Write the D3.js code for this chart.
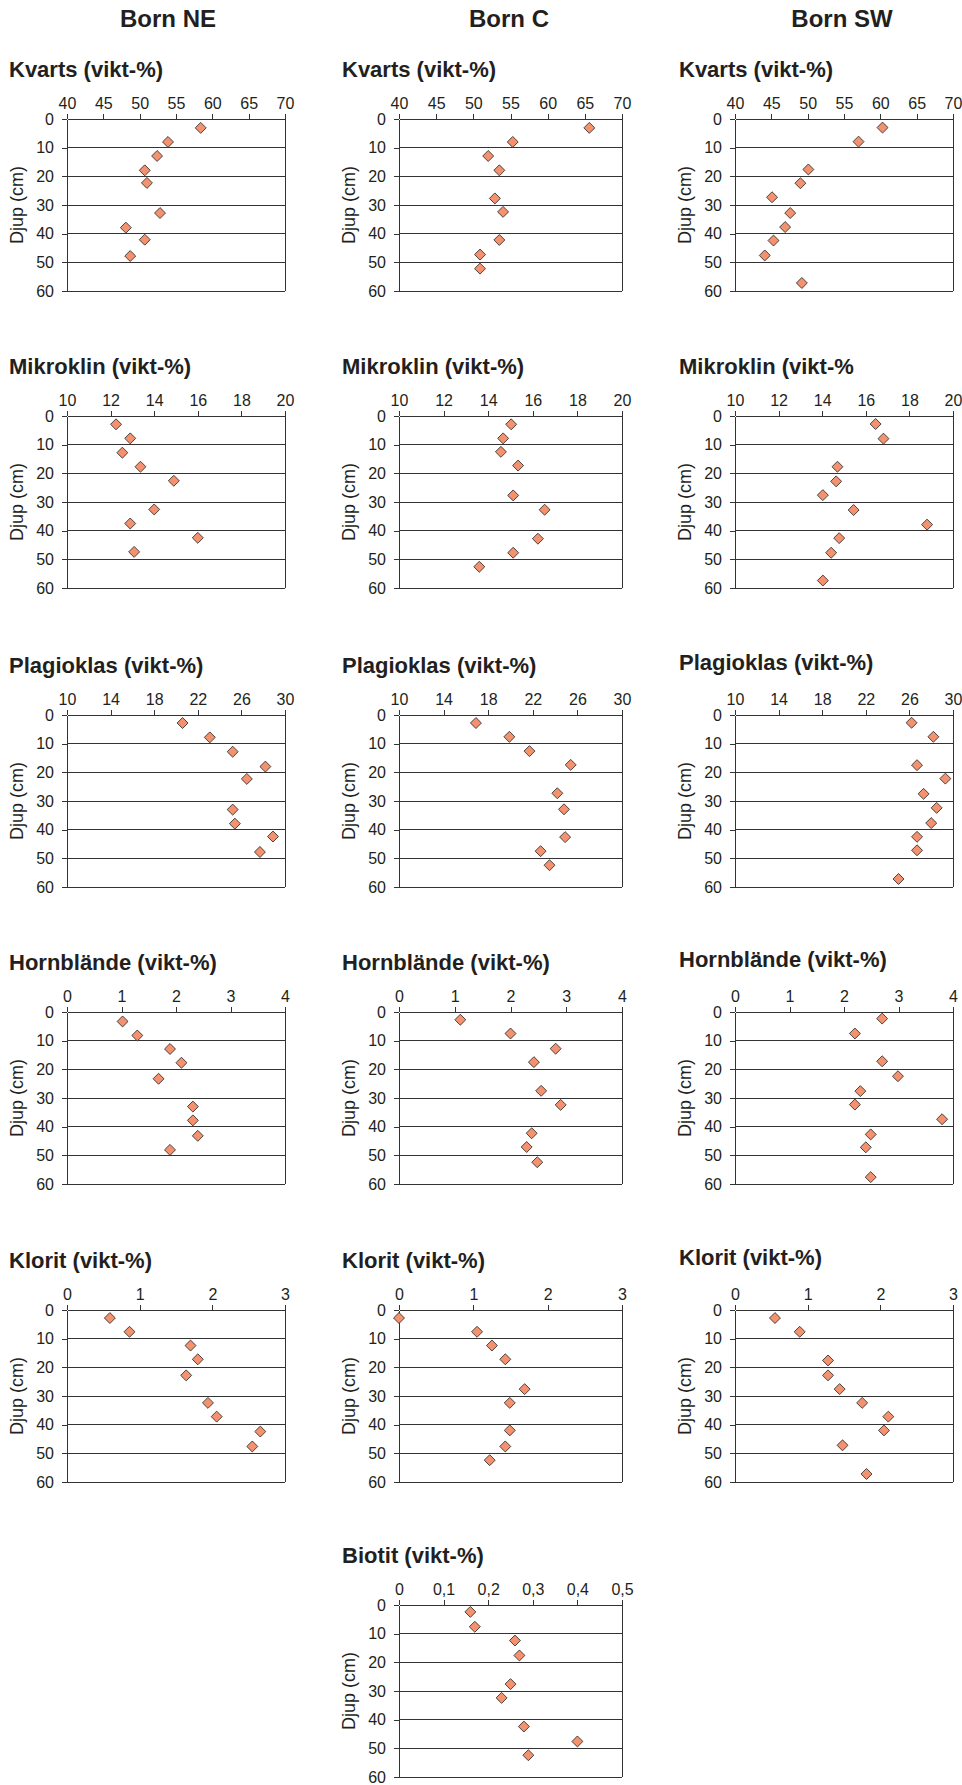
<!DOCTYPE html>
<html>
<head>
<meta charset="utf-8">
<script src="https://cdn.jsdelivr.net/npm/d3@7"></script>
<style>
  body { margin: 0; background: #fff; }
  text { font-family: 'Liberation Sans', Arial, sans-serif; fill: #231f20; }
</style>
</head>
<body>
<div id="chart"></div>
<script>
// sites (columns) and minerals (rows)
let sites = ['Born NE', 'Born C', 'Born SW']

// x tick values per mineral
let kvartsTicks = [40, 45, 50, 55, 60, 65, 70]
let mikroklinTicks = [10, 12, 14, 16, 18, 20]
let plagioklasTicks = [10, 14, 18, 22, 26, 30]
let hornblandeTicks = [0, 1, 2, 3, 4]
let kloritTicks = [0, 1, 2, 3]
let biotitTicks = [0, 0.1, 0.2, 0.3, 0.4, 0.5]
let depthTicks = [0, 10, 20, 30, 40, 50, 60]

// Kvarts
let kvartsNE_depth = [3.1, 8.0, 12.9, 17.9, 22.3, 32.8, 37.9, 42.1, 47.8]
let kvartsNE = [58.4, 53.9, 52.4, 50.7, 51.0, 52.8, 48.1, 50.7, 48.7]
let kvartsC_depth = [3.1, 8.0, 12.9, 17.9, 27.7, 32.4, 42.2, 47.3, 52.2]
let kvartsC = [65.6, 55.3, 52.0, 53.5, 52.9, 54.0, 53.5, 50.9, 50.9]
let kvartsSW_depth = [3.0, 7.9, 17.6, 22.4, 27.3, 32.8, 37.7, 42.4, 47.6, 57.2]
let kvartsSW = [60.3, 57.0, 50.1, 49.0, 45.1, 47.6, 46.9, 45.3, 44.1, 49.2]

// Mikroklin
let mikroklinNE_depth = [2.9, 7.8, 12.8, 17.7, 22.6, 32.6, 37.5, 42.5, 47.4]
let mikroklinNE = [12.25, 12.9, 12.54, 13.37, 14.9, 14.0, 12.9, 16.0, 13.08]
let mikroklinC_depth = [2.9, 7.8, 12.5, 17.3, 27.7, 32.7, 42.8, 47.7, 52.6]
let mikroklinC = [15.03, 14.67, 14.57, 15.34, 15.12, 16.53, 16.23, 15.12, 13.6]
let mikroklinSW_depth = [2.8, 7.9, 17.7, 22.8, 27.6, 32.8, 37.9, 42.6, 47.7, 57.4]
let mikroklinSW = [16.45, 16.81, 14.7, 14.64, 14.03, 15.44, 18.81, 14.78, 14.41, 14.03]

// Plagioklas
let plagioklasNE_depth = [2.8, 7.8, 12.8, 18.0, 22.3, 33.0, 37.9, 42.4, 47.8]
let plagioklasNE = [20.6, 23.1, 25.2, 28.2, 26.5, 25.2, 25.4, 28.9, 27.7]
let plagioklasC_depth = [2.8, 7.6, 12.6, 17.4, 27.3, 32.9, 42.6, 47.5, 52.4]
let plagioklasC = [16.9, 19.9, 21.7, 25.4, 24.2, 24.8, 24.9, 22.7, 23.5]
let plagioklasSW_depth = [2.7, 7.6, 17.5, 22.2, 27.5, 32.4, 37.7, 42.5, 47.2, 57.2]
let plagioklasSW = [26.2, 28.2, 26.7, 29.3, 27.3, 28.5, 28.0, 26.7, 26.7, 25.0]

// Hornblände
let hornblandeNE_depth = [3.3, 8.2, 12.9, 17.7, 23.3, 33.0, 37.8, 43.2, 48.1]
let hornblandeNE = [1.02, 1.29, 1.89, 2.1, 1.68, 2.31, 2.31, 2.4, 1.89]
let hornblandeC_depth = [2.7, 7.5, 12.8, 17.5, 27.5, 32.4, 42.3, 47.1, 52.4]
let hornblandeC = [1.1, 2.0, 2.81, 2.42, 2.55, 2.9, 2.38, 2.29, 2.48]
let hornblandeSW_depth = [2.3, 7.5, 17.2, 22.4, 27.6, 32.3, 37.4, 42.7, 47.2, 57.6]
let hornblandeSW = [2.7, 2.2, 2.7, 2.99, 2.3, 2.2, 3.8, 2.49, 2.4, 2.49]

// Klorit
let kloritNE_depth = [2.8, 7.6, 12.4, 17.2, 22.8, 32.4, 37.2, 42.4, 47.6]
let kloritNE = [0.59, 0.86, 1.7, 1.8, 1.64, 1.94, 2.06, 2.66, 2.55]
let kloritC_depth = [2.8, 7.6, 12.4, 17.2, 27.6, 32.4, 42.0, 47.6, 52.4]
let kloritC = [0.0, 1.05, 1.25, 1.43, 1.69, 1.49, 1.49, 1.43, 1.22]
let kloritSW_depth = [2.8, 7.6, 17.6, 22.8, 27.6, 32.4, 37.2, 42.0, 47.2, 57.2]
let kloritSW = [0.55, 0.89, 1.28, 1.28, 1.44, 1.75, 2.11, 2.05, 1.48, 1.81]

// Biotit (only Born C)
let biotitC_depth = [2.4, 7.6, 12.4, 17.6, 27.6, 32.4, 42.4, 47.6, 52.4]
let biotitC = [0.16, 0.17, 0.26, 0.27, 0.25, 0.23, 0.28, 0.40, 0.29]

// layout
let colLeft = [67, 399, 735]
let colWidth = [218, 223, 218]
let rowTop = [119, 416, 715, 1012, 1310, 1605]
let plotHeight = 172

let commaFormat = d3.formatLocale({ decimal: ',', thousands: ' ', grouping: [3], currency: ['', ''] }).format('~g')

let panels = [
  { row: 0, col: 0, title: 'Kvarts (vikt-%)', ticks: kvartsTicks, depth: kvartsNE_depth, values: kvartsNE },
  { row: 0, col: 1, title: 'Kvarts (vikt-%)', ticks: kvartsTicks, depth: kvartsC_depth, values: kvartsC },
  { row: 0, col: 2, title: 'Kvarts (vikt-%)', ticks: kvartsTicks, depth: kvartsSW_depth, values: kvartsSW },
  { row: 1, col: 0, title: 'Mikroklin (vikt-%)', ticks: mikroklinTicks, depth: mikroklinNE_depth, values: mikroklinNE },
  { row: 1, col: 1, title: 'Mikroklin (vikt-%)', ticks: mikroklinTicks, depth: mikroklinC_depth, values: mikroklinC },
  { row: 1, col: 2, title: 'Mikroklin (vikt-%', ticks: mikroklinTicks, depth: mikroklinSW_depth, values: mikroklinSW },
  { row: 2, col: 0, title: 'Plagioklas (vikt-%)', ticks: plagioklasTicks, depth: plagioklasNE_depth, values: plagioklasNE },
  { row: 2, col: 1, title: 'Plagioklas (vikt-%)', ticks: plagioklasTicks, depth: plagioklasC_depth, values: plagioklasC },
  { row: 2, col: 2, title: 'Plagioklas (vikt-%)', ticks: plagioklasTicks, depth: plagioklasSW_depth, values: plagioklasSW, titleDy: -3 },
  { row: 3, col: 0, title: 'Hornblände (vikt-%)', ticks: hornblandeTicks, depth: hornblandeNE_depth, values: hornblandeNE },
  { row: 3, col: 1, title: 'Hornblände (vikt-%)', ticks: hornblandeTicks, depth: hornblandeC_depth, values: hornblandeC },
  { row: 3, col: 2, title: 'Hornblände (vikt-%)', ticks: hornblandeTicks, depth: hornblandeSW_depth, values: hornblandeSW, titleDy: -3 },
  { row: 4, col: 0, title: 'Klorit (vikt-%)', ticks: kloritTicks, depth: kloritNE_depth, values: kloritNE },
  { row: 4, col: 1, title: 'Klorit (vikt-%)', ticks: kloritTicks, depth: kloritC_depth, values: kloritC },
  { row: 4, col: 2, title: 'Klorit (vikt-%)', ticks: kloritTicks, depth: kloritSW_depth, values: kloritSW, titleDy: -3 },
  { row: 5, col: 1, title: 'Biotit (vikt-%)', ticks: biotitTicks, depth: biotitC_depth, values: biotitC }
]

let svg = d3
  .select('#chart')
  .append('svg')
  .attr('width', 962)
  .attr('height', 1785)

// column headings
let headingX = [168, 509, 842]
svg
  .selectAll('.site-title')
  .data(sites)
  .enter()
  .append('text')
  .attr('class', 'site-title')
  .attr('x', (d, i) => headingX[i])
  .attr('y', 27)
  .attr('text-anchor', 'middle')
  .attr('font-size', 24)
  .attr('font-weight', 'bold')
  .text(d => d)

let titleX = [9, 342, 679]
let diamond = d3.symbol().type(d3.symbolSquare).size(60)

panels.forEach(p => {
  let left = colLeft[p.col]
  let top = rowTop[p.row]
  let width = colWidth[p.col]

  let xScale = d3.scaleLinear()
    .domain(d3.extent(p.ticks))
    .range([0, width])
  let yScale = d3.scaleLinear()
    .domain([0, 60])
    .range([0, plotHeight])

  // panel title
  svg.append('text')
    .attr('x', titleX[p.col])
    .attr('y', top - 42 + (p.titleDy || 0))
    .attr('font-size', 22)
    .attr('font-weight', 'bold')
    .text(p.title)

  let g = svg.append('g')
    .attr('transform', `translate(${left},${top})`)

  // horizontal grid lines + bottom line
  g.selectAll('.grid')
    .data(depthTicks.slice(1))
    .enter()
    .append('line')
    .attr('class', 'grid')
    .attr('x1', 0)
    .attr('x2', width)
    .attr('y1', d => yScale(d))
    .attr('y2', d => yScale(d))
    .attr('stroke', '#333')
    .attr('stroke-width', 1)
    .attr('shape-rendering', 'crispEdges')

  // right border
  g.append('line')
    .attr('x1', width)
    .attr('x2', width)
    .attr('y1', 0)
    .attr('y2', plotHeight)
    .attr('stroke', '#333')
    .attr('shape-rendering', 'crispEdges')

  let xAxis = d3.axisTop(xScale)
    .tickValues(p.ticks)
    .tickSize(5)
    .tickSizeOuter(0)
    .tickPadding(5)
    .tickFormat(d => commaFormat(d))
  let yAxis = d3.axisLeft(yScale)
    .tickValues(depthTicks)
    .tickSize(5)
    .tickSizeOuter(0)
    .tickPadding(8)

  g.append('g')
    .attr('class', 'x-axis')
    .call(xAxis)
  g.append('g')
    .attr('class', 'y-axis')
    .call(yAxis)

  g.selectAll('.domain, .tick line')
    .attr('stroke', '#333')
    .attr('shape-rendering', 'crispEdges')
  g.selectAll('.tick text')
    .attr('font-size', 16)
    .attr('font-family', "'Liberation Sans', Arial, sans-serif")
    .attr('fill', '#231f20')

  // y axis title
  g.append('text')
    .attr('transform', `translate(-44,${plotHeight / 2}) rotate(-90)`)
    .attr('text-anchor', 'middle')
    .attr('font-size', 18)
    .text('Djup (cm)')

  // points
  g.selectAll('.point')
    .data(p.values)
    .enter()
    .append('path')
    .attr('class', 'point')
    .attr('d', diamond)
    .attr('transform', (d, i) => `translate(${xScale(d)},${yScale(p.depth[i])}) rotate(45)`)
    .attr('fill', '#f4926f')
    .attr('stroke', '#2b2b2b')
    .attr('stroke-width', 0.8)
})
</script>
</body>
</html>
